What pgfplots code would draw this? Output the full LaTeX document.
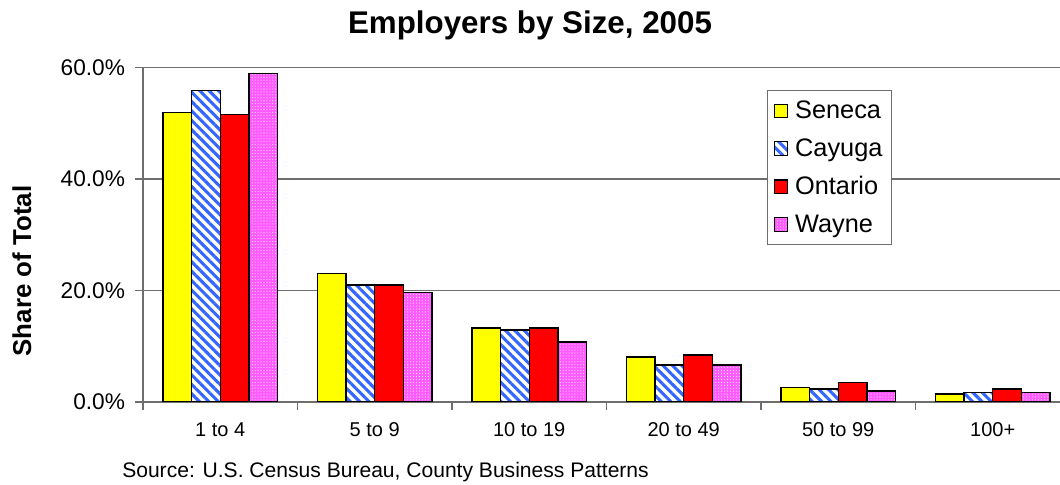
\documentclass[border=0pt]{standalone}
\usepackage{fontspec}
\setmainfont{Liberation Sans}
\usepackage{pgfplots}
\pgfplotsset{compat=1.18}
\usetikzlibrary{patterns.meta}

\definecolor{senecaY}{RGB}{255,255,0}
\definecolor{cayugaB}{RGB}{51,102,255}
\definecolor{ontarioR}{RGB}{255,0,0}
\definecolor{wayneP}{RGB}{255,90,255}
\definecolor{axisgray}{RGB}{110,110,110}

\begin{document}
\begin{tikzpicture}
\path[use as bounding box] (-107.25pt,-62.25pt) rectangle (687.75pt,301.5pt);
\begin{axis}[
    at={(0pt,0pt)}, anchor=south west,
    scale only axis,
    width=695.25pt, height=250.9pt,
    ybar=0pt, bar width=21.4pt,
    xmin=-0.5, xmax=5.5,
    ymin=0, ymax=60,
    axis lines*=left,
    axis line style={draw=axisgray, line width=1pt, -},
    xtick={0,1,2,3,4,5},
    xticklabels={1 to 4, 5 to 9, 10 to 19, 20 to 49, 50 to 99, 100+},
    major x tick style={draw=none},
    minor xtick={-0.5,0.5,1.5,2.5,3.5,4.5,5.5},
    minor x tick style={draw=axisgray, line width=1pt},
    minor tick length=6pt,
    ytick={0,20,40,60},
    major tick length=6pt,
    tick align=outside,
    y tick style={draw=axisgray, line width=1pt},
    yticklabel={\pgfmathprintnumber[fixed,fixed zerofill,precision=1]{\tick}\%},
    /pgf/number format/assume math mode=true,
    ymajorgrids=true,
    grid style={draw=axisgray, line width=1pt},
    xticklabel style={font=\fontsize{15}{18}\selectfont, yshift=-6pt},
    yticklabel style={font=\fontsize{17}{20}\selectfont, xshift=-4pt},
    legend style={at={(0.673,0.933)}, anchor=north west,
        draw=axisgray, line width=0.8pt,
        font=\fontsize{19}{22}\selectfont,
        row sep=9.5pt, inner xsep=5pt, inner ysep=6pt},
    legend cell align=left,
    legend image code/.code={\draw[#1, line width=0.8pt] (0pt,-5pt) rectangle (10pt,5pt);},
    every axis plot/.append style={draw=black, line width=1.1pt},
]
\addplot[fill=senecaY] coordinates {(0,51.9) (1,23.0) (2,13.3) (3,8.1) (4,2.6) (5,1.4)};
\addlegendentry{\hspace{3pt}Seneca}
\addplot[fill=white, postaction={pattern={Lines[angle=-45,distance=5pt,line width=2.3pt]}, pattern color=cayugaB}]
    coordinates {(0,55.9) (1,21.0) (2,12.9) (3,6.6) (4,2.3) (5,1.7)};
\addlegendentry{\hspace{3pt}Cayuga}
\addplot[fill=ontarioR] coordinates {(0,51.6) (1,21.0) (2,13.3) (3,8.4) (4,3.5) (5,2.3)};
\addlegendentry{\hspace{3pt}Ontario}
\addplot[fill=wayneP, postaction={pattern={Dots[distance=2.2pt,radius=0.4pt]}, pattern color=white}]
    coordinates {(0,58.9) (1,19.6) (2,10.8) (3,6.6) (4,2.0) (5,1.7)};
\addlegendentry{\hspace{3pt}Wayne}
\end{axis}
\node[font=\fontsize{23.5}{28}\selectfont\bfseries] at (290.25pt,282.75pt) {Employers by Size, 2005};
\node[font=\fontsize{19.4}{23}\selectfont\bfseries, rotate=90] at (-90.75pt,98.25pt) {Share of Total};
\node[font=\fontsize{15.8}{19}\selectfont, anchor=west, inner sep=0pt] at (-15.75pt,-52.5pt) {Source: U.S. Census Bureau, County Business Patterns};
\end{tikzpicture}
\end{document}
